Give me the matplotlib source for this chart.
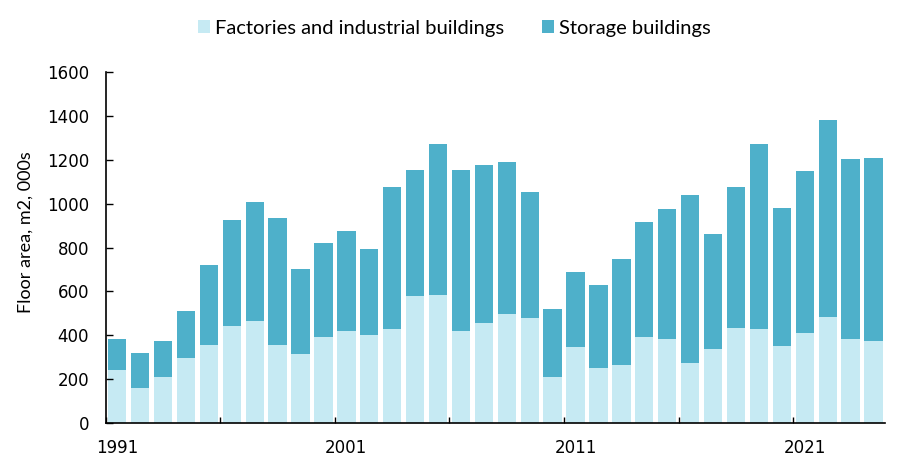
import matplotlib
matplotlib.use("Agg")
import matplotlib.pyplot as plt
import numpy as np

years = list(range(1991, 2025))
factories = [241, 158, 210, 297, 353, 443, 464, 356, 314, 391,
             419, 400, 429, 579, 585, 419, 455, 495, 478, 209,
             346, 250, 265, 393, 382, 273, 337, 434, 426, 352,
             410, 483, 382, 372]
totals = [381, 317, 372, 510, 719, 924, 1008, 935, 702, 820,
          874, 792, 1076, 1155, 1273, 1155, 1177, 1190, 1053, 518,
          688, 627, 747, 915, 974, 1040, 862, 1076, 1271, 979,
          1148, 1381, 1204, 1207]
storage = [t - f for t, f in zip(totals, factories)]
tick_labels = ["1991", "2001", "2011", "2021"]

plt.rcParams['font.family'] = ['Lato', 'DejaVu Sans']

fig = plt.figure(figsize=(8.98, 4.68), dpi=100)
ax = fig.add_axes([0.1177, 0.0968, 0.8678, 0.7487])

light = "#c6eaf3"
dark = "#4eb0ca"
x = np.arange(len(years))
ax.bar(x, factories, width=0.8, color=light, label="Factories and industrial buildings")
ax.bar(x, storage, width=0.8, bottom=factories, color=dark, label="Storage buildings")

ax.set_xlim(-0.5, len(years) - 0.5)
ax.set_ylim(0, 1600)
ax.set_yticks(range(0, 1601, 200))
ax.tick_params(axis='y', direction='in', length=5, width=1, labelsize=12, pad=12, colors='black')

# major ticks at category boundaries every 5, labels at centres every 10
ax.set_xticks(np.arange(-0.5, len(years), 5))
ax.set_xticklabels([])
ax.tick_params(axis='x', which='major', direction='in', length=4, width=1)
label_pos = [years.index(int(l)) for l in tick_labels]
ax.set_xticks(label_pos, minor=True)
ax.set_xticklabels(tick_labels, minor=True)
ax.tick_params(axis='x', which='minor', length=0, labelsize=12, pad=12)

for lab in ax.get_yticklabels() + ax.get_xticklabels(minor=True):
    lab.set_family('DejaVu Sans')

for s in ['top', 'right']:
    ax.spines[s].set_visible(False)
for s in ['left', 'bottom']:
    ax.spines[s].set_linewidth(1.2)

ax.set_ylabel("Floor area, m2, 000s", fontsize=13, labelpad=9)
ax.yaxis.set_label_coords(-0.093, 0.545)

fig.legend(loc='center', bbox_to_anchor=(0.506, 0.94), ncol=2, frameon=False,
           fontsize=14.5, handlelength=0.6, handleheight=0.6, handletextpad=0.25,
           columnspacing=1.9)

fig.savefig("out.png", dpi=100)
